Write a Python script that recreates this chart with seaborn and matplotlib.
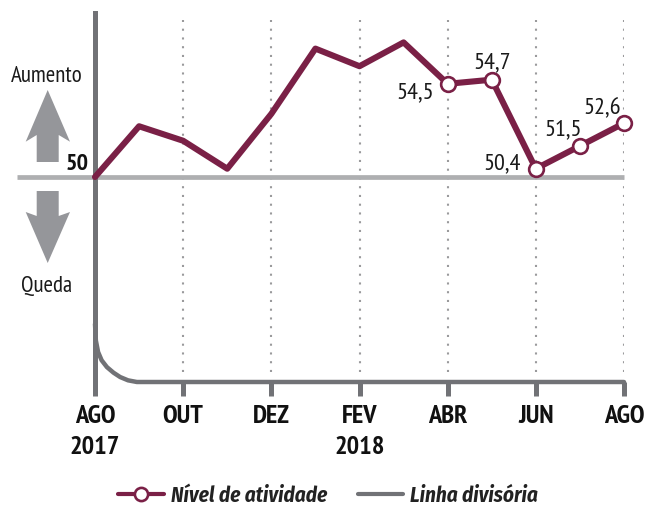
import pandas as pd
import matplotlib
matplotlib.use('Agg')
import matplotlib.pyplot as plt
import seaborn as sns
from matplotlib.lines import Line2D
from matplotlib.patches import Polygon

# Monthly activity index
meses = list(range(13))
nivel = [50.0, 52.45, 51.75, 50.4, 53.05, 56.2, 55.35, 56.5, 54.5, 54.7, 50.4, 51.5, 52.6]
destaque = [8, 9, 10, 11, 12]
rotulos = ['54,5', '54,7', '50,4', '51,5', '52,6']
rotulo_offset = [(-32, -8), (0, 18), (-34, 6), (-17, 17), (-22, 15)]

# Dividing line, flattens out after the first month
divisoria_x = [0, 0.02, 0.07, 0.15, 0.27, 0.42, 0.57, 0.75, 0.95, 12]
divisoria_y = [42.9, 42.1, 41.55, 41.15, 40.82, 40.55, 40.34, 40.18, 40.1, 40.1]

tick_pos = [0, 2, 4, 6, 8, 10, 12]
tick_labels = ['AGO\n2017', 'OUT', 'DEZ', 'FEV\n2018', 'ABR', 'JUN', 'AGO']

W, H = 645, 506
VINHO = '#7a2046'
CINZA = '#717276'
CINZA_CLARO = '#aeafb1'
SETA = '#95969a'
FONTE = ['PT Sans Narrow', 'Fira Sans Condensed', 'DejaVu Sans']


def px(x, y):
    return x / W, 1 - y / H


sns.set_style('white')
plt.rcParams['font.family'] = FONTE

fig = plt.figure(figsize=(6.45, 5.06), dpi=100)
ax = fig.add_axes([95 / W, 1 - 383 / H, (624 - 95) / W, (383 - 14) / H])
ax.patch.set_alpha(0)

df = pd.DataFrame({'mes': meses, 'nivel': nivel})
df_div = pd.DataFrame({'mes': divisoria_x, 'nivel': divisoria_y})
df_pts = df.iloc[destaque]

for pos in tick_pos[1:]:
    ax.plot([pos, pos], [40.6, 57.6], color='#9a9a9c', lw=1.5, ls=(0, (1, 3.2)), zorder=1)

ax.plot([-78 / 44.08, 12], [50, 50], color=CINZA_CLARO, lw=3.4, clip_on=False, zorder=2,
        solid_capstyle='butt')
sns.lineplot(data=df_div, x='mes', y='nivel', color=CINZA, lw=3.2, ax=ax, clip_on=False,
             zorder=3, estimator=None, sort=False)
sns.lineplot(data=df, x='mes', y='nivel', color=VINHO, lw=4.4, ax=ax, clip_on=False,
             zorder=4, estimator=None, sort=False)
sns.scatterplot(data=df_pts, x='mes', y='nivel', s=112, color='white', edgecolor=VINHO,
                linewidth=1.9, ax=ax, clip_on=False, zorder=5)

for pos, val, txt, off in zip(df_pts['mes'], df_pts['nivel'], rotulos, rotulo_offset):
    ax.annotate(txt, (pos, val), xytext=(off[0] * 0.72, off[1] * 0.72), textcoords='offset points',
                ha='center', va='center', fontsize=17.5, color='#1a1a1a', zorder=6)

ax.set_xlim(0, 12)
ax.set_ylim(40.1, 57.92)
ax.set_xlabel('')
ax.set_ylabel('')
ax.set_yticks([])
ax.set_xticks(tick_pos)
ax.set_xticklabels(tick_labels, fontsize=19, fontweight='bold', color='#111111', linespacing=1.45)
ax.tick_params(axis='x', bottom=True, length=10, width=3.6, color=CINZA, pad=5.5)
sns.despine(ax=ax, top=True, right=True, bottom=True)
ax.spines['left'].set_color(CINZA)
ax.spines['left'].set_linewidth(3.6)

# Arrows and side labels
seta_cima = [(47.7, 91), (70, 142.7), (58.7, 136), (58.7, 163), (36.7, 163), (36.7, 136), (25.7, 142.7)]
seta_baixo = [(36.7, 192), (58.7, 192), (58.7, 217), (70, 213), (47.7, 264), (25.7, 213), (36.7, 217)]
for seta in (seta_cima, seta_baixo):
    fig.add_artist(Polygon([px(*p) for p in seta], closed=True, transform=fig.transFigure,
                           facecolor=SETA, edgecolor='none'))

fig.text(*px(47, 77), 'Aumento', ha='center', va='center', fontsize=16.5, color='#1a1a1a')
fig.text(*px(47, 287), 'Queda', ha='center', va='center', fontsize=16.5, color='#1a1a1a')
fig.text(*px(77, 165), '50', ha='center', va='center', fontsize=17.5, fontweight='bold', color='#111111')

handles = [
    Line2D([], [], color=VINHO, lw=3, marker='o', markersize=9.5, markerfacecolor='white',
           markeredgecolor=VINHO, markeredgewidth=1.9),
    Line2D([], [], color=CINZA, lw=3),
]
# PT Sans Narrow has no italic face
fig.legend(handles, ['Nível de atividade', 'Linha divisória'], loc='center', ncols=2,
           bbox_to_anchor=px(328, 496), frameon=False, handlelength=2.17, columnspacing=1.45,
           handletextpad=0.33, borderpad=0,
           prop={'family': 'Fira Sans Condensed', 'size': 15.2, 'weight': 'bold', 'style': 'italic'},
           labelcolor='#222222')

fig.savefig('out.png', dpi=100)
